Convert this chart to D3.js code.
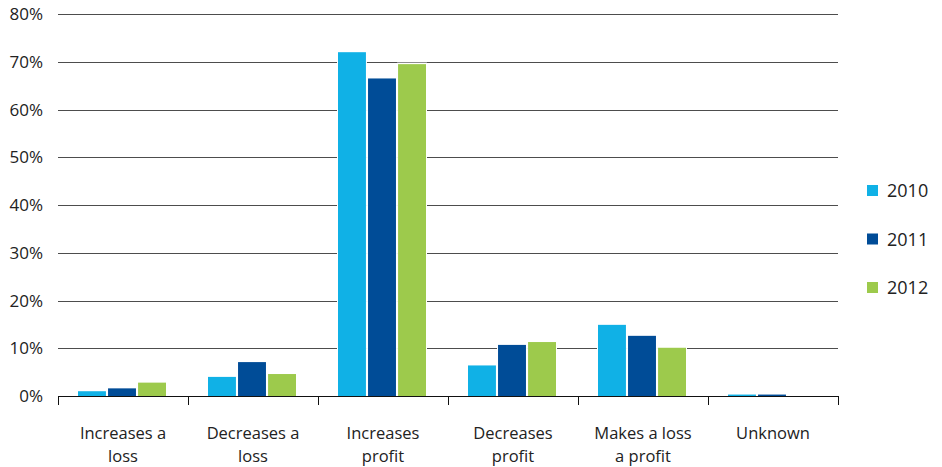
<!DOCTYPE html>
<html>
<head>
  <meta charset="utf-8">
  <script src="https://d3js.org/d3.v7.min.js"></script>
  <style>
    body { margin: 0; background: #fff; }
    text { font-family: "Open Sans", sans-serif; fill: #222; }
    .grid line { stroke: #4d4d4d; stroke-width: 1px; }
  </style>
</head>
<body>
  <svg id="chart" width="942" height="467"></svg>
  <script>
    // Data
    const categories = [
      ["Increases a", "loss"],
      ["Decreases a", "loss"],
      ["Increases", "profit"],
      ["Decreases", "profit"],
      ["Makes a loss", "a profit"],
      ["Unknown"]
    ];
    const years = ["2010", "2011", "2012"];
    const values2010 = [1.0, 4.0, 72.0, 6.4, 14.9, 0.3];
    const values2011 = [1.6, 7.1, 66.5, 10.7, 12.6, 0.3];
    const values2012 = [2.8, 4.6, 69.5, 11.3, 10.1, 0];
    const yTicks = [0, 10, 20, 30, 40, 50, 60, 70, 80];
    const colors = ["#10b1e6", "#004c97", "#9dca4c"];

    const series = [values2010, values2011, values2012];

    const svg = d3.select("#chart");
    const plotLeft = 58, plotRight = 838, plotTop = 14, plotBottom = 396;

    const x0 = d3.scaleBand()
      .domain(d3.range(categories.length))
      .range([plotLeft, plotRight]);
    const x1 = d3.scaleBand()
      .domain(years)
      .range([20, 108])
      .paddingInner(0.07);
    const y = d3.scaleLinear().domain([0, 80]).range([plotBottom, plotTop]);

    // Gridlines
    svg.append("g").attr("class", "grid")
      .selectAll("line").data(yTicks.filter(d => d > 0))
      .join("line")
      .attr("x1", plotLeft).attr("x2", plotRight)
      .attr("y1", d => Math.round(y(d)) + 0.5).attr("y2", d => Math.round(y(d)) + 0.5);

    // Y tick labels
    svg.append("g").selectAll("text").data(yTicks)
      .join("text")
      .attr("x", 43)
      .attr("y", d => y(d) + 6)
      .attr("text-anchor", "end")
      .attr("font-size", 17)
      .text(d => d + "%");

    // Bars: a white halo behind each one breaks the gridlines like the original
    const groups = svg.append("g").selectAll("g").data(categories)
      .join("g")
      .attr("transform", (d, i) => "translate(" + x0(i) + ",0)");
    const barData = (d, i) => years.map((yr, j) => ({ year: yr, j: j, value: series[j][i] }));
    groups.selectAll("rect.halo")
      .data(barData)
      .join("rect")
      .attr("class", "halo")
      .attr("x", d => x1(d.year) - 1)
      .attr("width", x1.bandwidth() + 2)
      .attr("y", d => y(d.value) - 1.5)
      .attr("height", d => d.value > 0 ? plotBottom - y(d.value) + 1.5 : 0)
      .attr("fill", "#fff");
    groups.selectAll("rect.bar")
      .data(barData)
      .join("rect")
      .attr("class", "bar")
      .attr("x", d => x1(d.year))
      .attr("width", x1.bandwidth())
      .attr("y", d => y(d.value))
      .attr("height", d => plotBottom - y(d.value))
      .attr("fill", d => colors[d.j]);

    // X axis line and category ticks
    svg.append("line")
      .attr("x1", plotLeft).attr("x2", plotRight)
      .attr("y1", plotBottom + 0.5).attr("y2", plotBottom + 0.5)
      .attr("stroke", "#111");
    svg.append("g").selectAll("line")
      .data(d3.range(categories.length + 1))
      .join("line")
      .attr("x1", i => Math.round(plotLeft + i * x0.step()) + 0.5)
      .attr("x2", i => Math.round(plotLeft + i * x0.step()) + 0.5)
      .attr("y1", plotBottom).attr("y2", plotBottom + 9)
      .attr("stroke", "#111");

    // Category labels
    const labels = svg.append("g").selectAll("text").data(categories)
      .join("text")
      .attr("text-anchor", "middle")
      .attr("font-size", 16.5)
      .attr("transform", (d, i) => "translate(" + (x0(i) + x0.bandwidth() / 2) + ",439)");
    labels.selectAll("tspan").data(d => d)
      .join("tspan")
      .attr("x", 0)
      .attr("dy", (d, i) => i === 0 ? 0 : 23)
      .text(d => d);

    // Legend
    const legend = svg.append("g").selectAll("g").data(years)
      .join("g")
      .attr("transform", (d, i) => "translate(867," + (185 + i * 48.5) + ")");
    legend.append("rect")
      .attr("width", 11).attr("height", 11)
      .attr("fill", (d, i) => colors[i]);
    legend.append("text")
      .attr("x", 20).attr("y", 12)
      .attr("font-size", 18)
      .text(d => d);
  </script>
</body>
</html>
